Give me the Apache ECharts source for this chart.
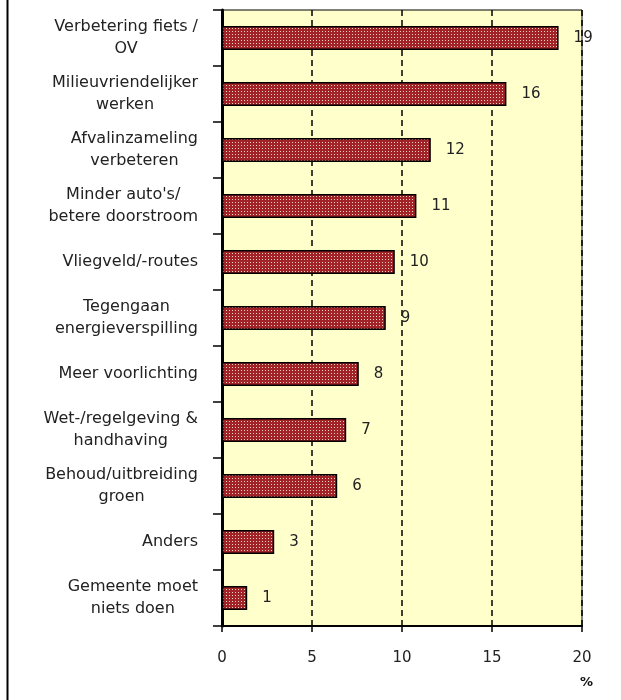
<!DOCTYPE html>
<html>
<head>
<meta charset="utf-8">
<script src="https://cdn.jsdelivr.net/npm/echarts@6/dist/echarts.min.js"></script>
<style>html,body{margin:0;padding:0;background:#fff;}#c{width:621px;height:700px;}</style>
</head>
<body>
<div id="c"></div>
<script>
var categories = [
  ['Verbetering fiets /', 'OV'],
  ['Milieuvriendelijker', 'werken'],
  ['Afvalinzameling', 'verbeteren'],
  ["Minder auto's/", 'betere doorstroom'],
  ['Vliegveld/-routes'],
  ['Tegengaan', 'energieverspilling'],
  ['Meer voorlichting'],
  ['Wet-/regelgeving &', 'handhaving'],
  ['Behoud/uitbreiding', 'groen'],
  ['Anders'],
  ['Gemeente moet', 'niets doen']
];
var values = [18.7, 15.8, 11.6, 10.8, 9.6, 9.1, 7.6, 6.9, 6.4, 2.9, 1.4];
var valueLabels = ['19', '16', '12', '11', '10', '9', '8', '7', '6', '3', '1'];
var xTicks = [0, 5, 10, 15, 20];

var pc = document.createElement('canvas');
pc.width = 3; pc.height = 3;
var g = pc.getContext('2d');
g.fillStyle = '#A2222A';
g.fillRect(0, 0, 3, 3);
g.fillStyle = '#EDD3B4';
g.fillRect(1, 1, 1, 1);

var chart = echarts.init(document.getElementById('c'), null, {renderer: 'canvas'});
var font = 'DejaVu Sans';
chart.setOption({
  animation: false,
  title: {
    text: '%', left: 575, top: 671,
    textStyle: {fontFamily: font, fontSize: 13, fontWeight: 'bold', color: '#111'}
  },
  grid: {
    left: 222, top: 10, right: 39, bottom: 74,
    show: true, backgroundColor: '#FFFFCC', borderColor: '#000', borderWidth: 1
  },
  xAxis: {
    type: 'value', min: xTicks[0], max: xTicks[xTicks.length - 1], interval: 5,
    axisLine: {show: true, lineStyle: {color: '#000', width: 2}},
    axisTick: {show: true, length: 6, lineStyle: {color: '#000', width: 1.5}},
    axisLabel: {margin: 25, fontFamily: font, fontSize: 15, color: '#222'},
    splitLine: {show: true, lineStyle: {color: '#000', type: [6, 4], width: 1.5}}
  },
  yAxis: {
    type: 'category', inverse: true,
    data: categories.map(function (c) { return c.join('\n'); }),
    axisLine: {show: true, lineStyle: {color: '#000', width: 3}},
    axisTick: {show: true, length: 9, lineStyle: {color: '#000', width: 1.5}},
    axisLabel: {
      margin: 24, fontFamily: font, fontSize: 16, color: '#222', lineHeight: 22,
      formatter: function (v) {
        return v.split('\n').map(function (l) { return '{c|' + l + '}'; }).join('\n');
      },
      rich: {c: {align: 'center', fontFamily: font, fontSize: 16, color: '#222', lineHeight: 22}}
    },
    splitLine: {show: false}
  },
  series: [{
    type: 'bar', data: values, barWidth: 24,
    itemStyle: {color: {image: pc, repeat: 'repeat'}, borderColor: '#000', borderWidth: 1.5},
    label: {
      show: true, position: 'right', distance: 15,
      fontFamily: font, fontSize: 15, color: '#222',
      formatter: function (p) { return valueLabels[p.dataIndex]; }
    }
  }],
  graphic: [{
    type: 'line', shape: {x1: 7.5, y1: 0, x2: 7.5, y2: 700},
    style: {stroke: '#000', lineWidth: 2}
  }]
});
</script>
</body>
</html>
